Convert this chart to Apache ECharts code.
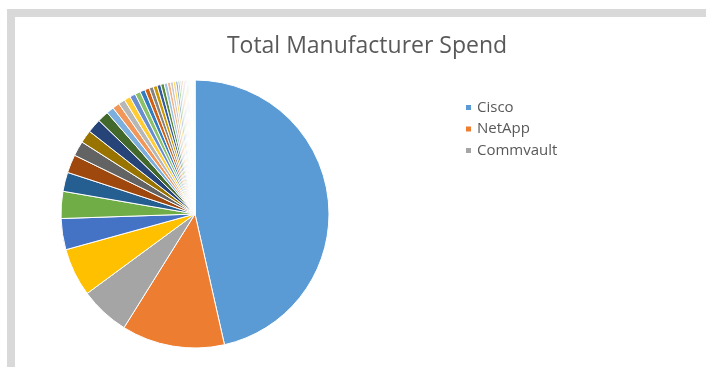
<!DOCTYPE html>
<html>
<head>
<meta charset="utf-8">
<script src="https://cdn.jsdelivr.net/npm/echarts@6/dist/echarts.min.js"></script>
<style>
  html, body { margin: 0; padding: 0; background: #fff; }
  #frame { position: absolute; left: 7px; top: 9px; width: 706px; height: 370px;
           border-left: 8px solid #d9d9d9; border-top: 8px solid #d9d9d9; }
  #chart { position: absolute; left: 0; top: 0; width: 706px; height: 367px; }
</style>
</head>
<body>
<div id="frame"></div>
<div id="chart"></div>
<script>
// share of spend per manufacturer (%)
const manufacturers = [
  'Cisco', 'NetApp', 'Commvault', 'M4', 'M5', 'M6', 'M7', 'M8', 'M9', 'M10',
  'M11', 'M12', 'M13', 'M14', 'M15', 'M16', 'M17', 'M18', 'M19', 'M20',
  'M21', 'M22', 'M23', 'M24', 'M25', 'M26', 'M27', 'M28', 'M29', 'M30',
  'M31', 'M32', 'M33', 'M34', 'M35', 'M36', 'M37', 'M38', 'M39', 'M40',
  'M41', 'M42', 'M43', 'M44', 'M45', 'M46'
]
const spend = [
  46.4, 12.4, 6.0, 5.8, 3.75, 3.25, 2.3, 2.2, 1.8, 1.55,
  1.7, 1.35, 0.9, 0.85, 0.8, 0.75, 0.7, 0.65, 0.6, 0.55,
  0.5, 0.48, 0.45, 0.42, 0.4, 0.36, 0.33, 0.3, 0.27, 0.24,
  0.22, 0.2, 0.18, 0.16, 0.15, 0.14, 0.12, 0.11, 0.1, 0.09,
  0.08, 0.07, 0.06, 0.05, 0.04, 0.03
]
const legendItems = ['Cisco', 'NetApp', 'Commvault']

const palette = [
  '#5b9bd5', '#ed7d31', '#a5a5a5', '#ffc000', '#4472c4', '#70ad47',
  '#255e91', '#9e480e', '#636363', '#997300', '#264478', '#43682b',
  '#7cafdd', '#f1975a', '#b7b7b7', '#ffcd33', '#698ed0', '#8cc168',
  '#327dc2', '#d26012', '#848484', '#cc9a00', '#335aa1', '#5a8a39',
  '#9dc3e6', '#f4b183', '#c9c9c9', '#ffd966', '#8faadc', '#a9d18e',
  '#bdd7ee', '#f8cbad', '#dbdbdb', '#ffe699', '#b4c7e7', '#c5e0b4',
  '#deebf7', '#fbe5d6', '#ededed', '#fff2cc', '#dae3f3', '#e2f0d9'
]

const chart = echarts.init(document.getElementById('chart'))
chart.setOption({
  animation: false,
  color: palette,
  title: {
    text: 'Total Manufacturer Spend',
    left: 362,
    textAlign: 'center',
    top: 30,
    textStyle: { fontFamily: 'Open Sans', fontWeight: 'normal', fontSize: 23, color: '#595959' }
  },
  legend: {
    data: legendItems,
    orient: 'vertical',
    left: 459,
    top: 95,
    icon: 'rect',
    itemWidth: 7,
    itemHeight: 7,
    itemGap: 6.5,
    textStyle: { fontFamily: 'Open Sans', fontSize: 15, color: '#595959', lineHeight: 15 }
  },
  series: [{
    type: 'pie',
    center: [195, 214],
    radius: 134,
    startAngle: 90,
    clockwise: true,
    label: { show: false },
    labelLine: { show: false },
    itemStyle: { borderColor: '#fff', borderWidth: 1 },
    data: manufacturers.map((n, i) => ({ name: n, value: spend[i] }))
  }]
})
</script>
</body>
</html>
